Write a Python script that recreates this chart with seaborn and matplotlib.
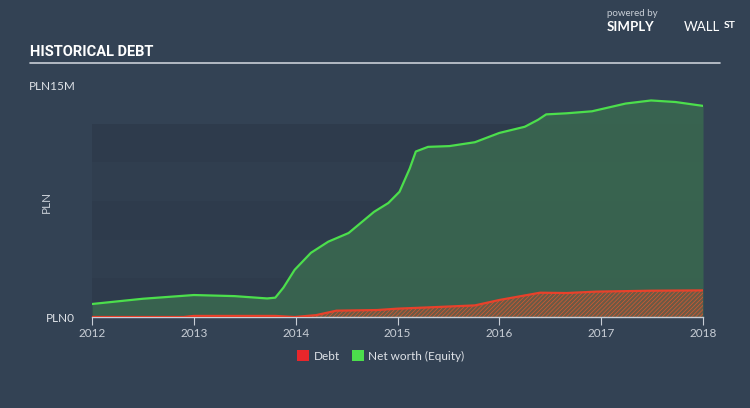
import matplotlib
matplotlib.use("Agg")
import matplotlib.pyplot as plt
import seaborn as sns
import pandas as pd
import numpy as np

# ---- data (PLN millions) ----
equity_years = [2012.0, 2012.5, 2013.0, 2013.4, 2013.72, 2013.8, 2013.88, 2013.99, 2014.15, 2014.32, 2014.52,
                2014.77, 2014.91, 2015.02, 2015.12, 2015.18, 2015.30, 2015.51, 2015.76, 2016.0,
                2016.25, 2016.38, 2016.46, 2016.66, 2016.91, 2017.24, 2017.49, 2017.73, 2018.0]
equity_vals = [0.84, 1.18, 1.42, 1.35, 1.20, 1.25, 1.90, 3.05, 4.15, 4.87, 5.43,
               6.80, 7.37, 8.10, 9.60, 10.70, 11.00, 11.05, 11.30, 11.90,
               12.30, 12.75, 13.10, 13.17, 13.30, 13.80, 14.00, 13.90, 13.65]

debt_years = [2012.0, 2012.9, 2013.0, 2013.8, 2013.99, 2014.2, 2014.4, 2014.8, 2015.0, 2015.3,
              2015.76, 2016.0, 2016.4, 2016.66, 2016.95, 2017.49, 2018.0]
debt_vals = [0.0, 0.0, 0.07, 0.07, 0.0, 0.12, 0.41, 0.45, 0.54, 0.62,
             0.75, 1.10, 1.57, 1.55, 1.64, 1.70, 1.72]

year_ticks = [2012, 2013, 2014, 2015, 2016, 2017, 2018]
y_ticks = [0, 15]
y_tick_labels = ["PLN0", "PLN15M"]
band_edges = [0, 2.5, 5, 7.5, 10, 12.5]

BG = "#334254"
sns.set_theme(style="dark")
plt.rcParams["font.family"] = ["Lato", "DejaVu Sans"]
plt.rcParams["hatch.linewidth"] = 0.5

fig = plt.figure(figsize=(7.5, 4.08), dpi=100, facecolor=BG)
ax = fig.add_axes([92/750, 91/408, 611/750, 232/408])
ax.set_facecolor(BG)

# background bands
band_cols = ["#2e3b4c", "#303e4f"]
for i in range(len(band_edges) - 1):
    ax.axhspan(band_edges[i], band_edges[i+1], color=band_cols[i % 2], zorder=0, lw=0)

eq = pd.DataFrame({"year": equity_years, "value": equity_vals})
dt = pd.DataFrame({"year": debt_years, "value": debt_vals})

ax.fill_between(eq["year"], 0, eq["value"], color="#3a6a50", alpha=0.85, lw=0, zorder=1)
ax.fill_between(dt["year"], 0, dt["value"], facecolor="#6b5a45", edgecolor="#d9582f",
                hatch="////////", lw=0, zorder=2)
sns.lineplot(data=eq, x="year", y="value", color="#4cdf4c", lw=1.6, ax=ax, zorder=3)
sns.lineplot(data=dt, x="year", y="value", color="#e8412b", lw=1.6, ax=ax, zorder=4)

ax.set_xlim(2012, 2018)
ax.set_ylim(0, 15)
ax.set_xticks(year_ticks)
ax.set_xticklabels([str(y) for y in year_ticks])
ax.set_yticks(y_ticks)
ax.set_yticklabels(y_tick_labels)
ax.set_xlabel("")
ax.set_ylabel("")
for s in ["top", "right", "left"]:
    ax.spines[s].set_visible(False)
ax.spines["bottom"].set_color("#c8ced6")
ax.spines["bottom"].set_linewidth(1.0)
ax.tick_params(axis="x", colors="#c8ced6", labelsize=8.5, length=6, width=0.8, direction="out", pad=2,
               bottom=True)
ax.tick_params(axis="y", colors="#dfe3e8", labelsize=8.5, length=0, pad=12)
ax.grid(False)

# y axis name
fig.text(46/750, 1 - 202/408, "PLN", color="#c8ced6", fontsize=8.5, rotation=90, ha="center", va="center")

# title and rule
fig.text(30/750, 1 - 52/408, "HISTORICAL DEBT", color="white", fontsize=10.5, fontweight="bold",
         family=["Roboto", "DejaVu Sans"], fontstretch="condensed", va="center", ha="left")
fig.add_artist(plt.Line2D([30/750, 720/750], [1 - 63/408, 1 - 63/408], color="#c8ced6", lw=1.2))

# branding
fig.text(607/750, 1 - 14/408, "powered by", color="#c8ced6", fontsize=7, ha="left", va="center")
fig.text(607/750, 1 - 27/408, "SIMPLY", color="white", fontsize=9.5, fontweight="bold", ha="left", va="center")
fig.text(684/750, 1 - 27/408, "WALL", color="white", fontsize=9.5, ha="left", va="center")
fig.text(724/750, 1 - 26/408, "ST", color="white", fontsize=7.5, fontweight="bold", ha="left", va="center")

# legend
from matplotlib.patches import Patch
handles = [Patch(facecolor="#e8262b", edgecolor="none", label="Debt"),
           Patch(facecolor="#4cdf4c", edgecolor="none", label="Net worth (Equity)")]
leg = fig.legend(handles=handles, loc="center", bbox_to_anchor=(381/750, 1 - 356/408), ncol=2,
                 frameon=False, fontsize=8.5, handlelength=1.0, handleheight=1.0, handletextpad=0.4,
                 columnspacing=1.0)
for t in leg.get_texts():
    t.set_color("#dfe3e8")

fig.savefig("out.png", dpi=100, facecolor=BG)
